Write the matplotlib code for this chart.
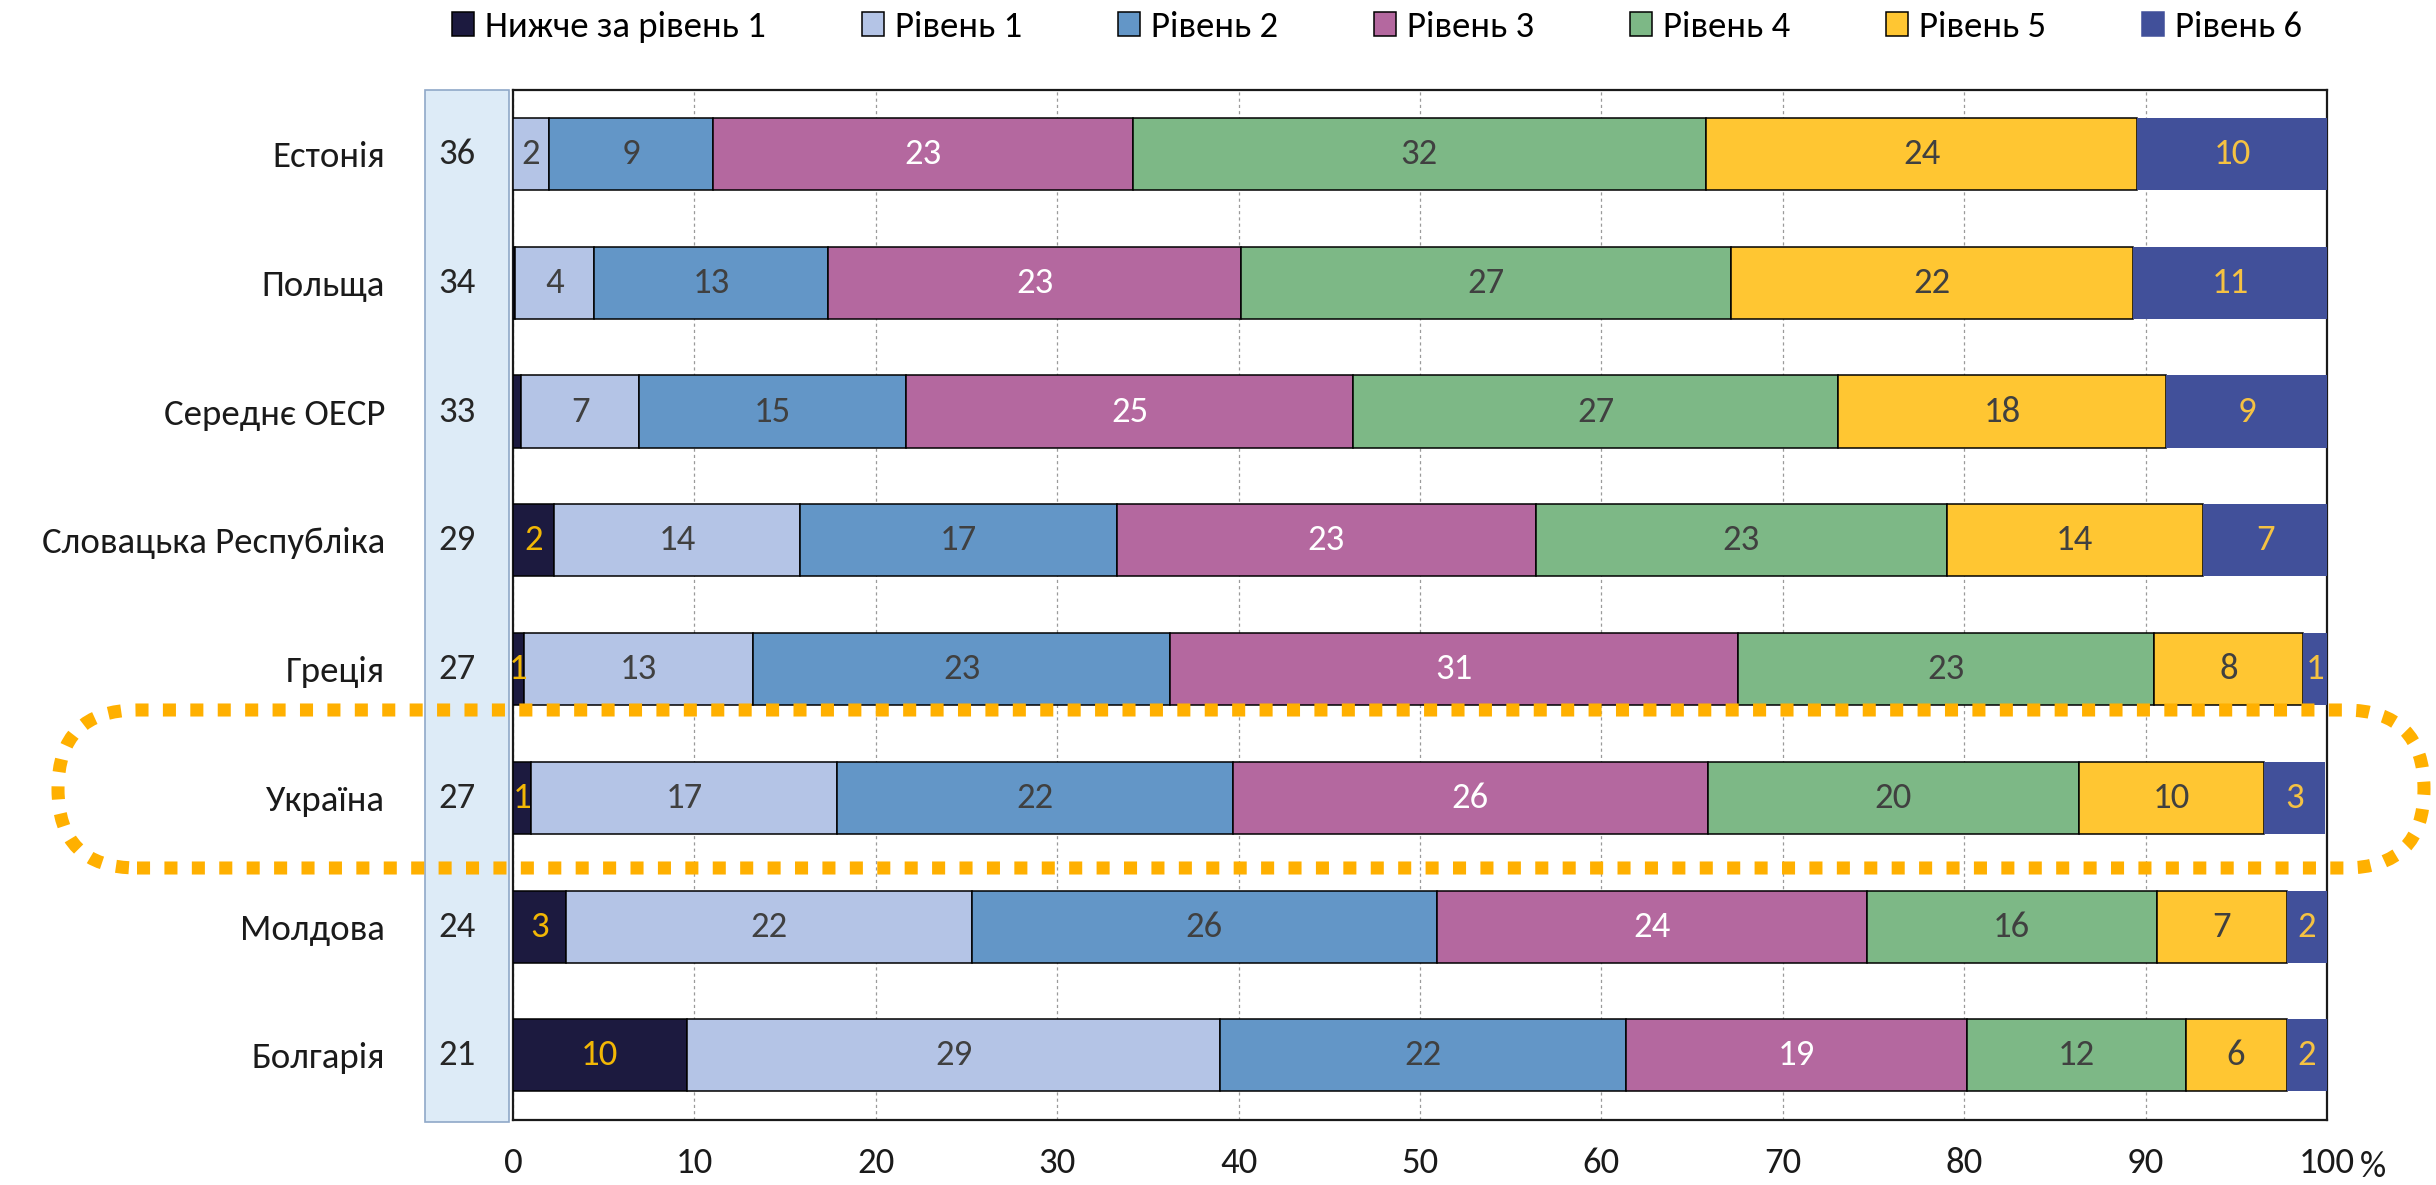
import matplotlib
matplotlib.use("Agg")
import matplotlib.pyplot as plt
import numpy as np
from matplotlib.patches import Patch, FancyBboxPatch, Rectangle
from matplotlib.transforms import IdentityTransform, blended_transform_factory

plt.rcParams['font.family'] = ['Carlito', 'Lato', 'DejaVu Sans']

categories = ['Естонія', 'Польща', 'Середнє ОЕСР', 'Словацька Республіка',
              'Греція', 'Україна', 'Молдова', 'Болгарія']
scores = [36, 34, 33, 29, 27, 27, 24, 21]
series_names = ['Нижче за рівень 1', 'Рівень 1', 'Рівень 2', 'Рівень 3',
                'Рівень 4', 'Рівень 5', 'Рівень 6']
below1 = [0.0, 0.1, 0.45, 2.27, 0.58, 1.0, 2.91, 9.58]
lvl1 = [1.97, 4.37, 6.51, 13.56, 12.66, 16.86, 22.37, 29.42]
lvl2 = [9.03, 12.91, 14.72, 17.44, 22.97, 21.82, 25.63, 22.36]
lvl3 = [23.17, 22.75, 24.63, 23.14, 31.33, 26.18, 23.72, 18.80]
lvl4 = [31.59, 26.99, 26.76, 22.62, 22.95, 20.48, 15.98, 12.04]
lvl5 = [23.79, 22.20, 18.06, 14.14, 8.18, 10.16, 7.16, 5.57]
lvl6 = [10.45, 10.68, 8.87, 6.83, 1.33, 3.40, 2.23, 2.23]
xticks = [0, 10, 20, 30, 40, 50, 60, 70, 80, 90, 100]

series = [below1, lvl1, lvl2, lvl3, lvl4, lvl5, lvl6]
colors = ['#1C1A3F', '#B4C4E6', '#6396C7', '#B4689F', '#7DB886', '#FFC632', '#41509A']
text_colors = ['#F2B705', '#404040', '#404040', '#FFFFFF', '#404040', '#404040', '#F5C242']
edges = ['black', 'black', 'black', 'black', 'black', 'black', 'none']

W, H = 2436, 1185
fig = plt.figure(figsize=(W / 100, H / 100), dpi=100)
ax = fig.add_axes([513 / W, 1 - 1119.7 / H, (2327 - 513) / W, (1119.7 - 89.6) / H])

FS = 26.5
y = np.arange(len(categories))
left = np.zeros(len(categories))
for vals, col, tcol, ec, name in zip(series, colors, text_colors, edges, series_names):
    vals = np.array(vals)
    ax.barh(y, vals, left=left, height=0.56, color=col, edgecolor=ec,
            linewidth=1.1, zorder=3, label=name)
    for yi, (l, v) in enumerate(zip(left, vals)):
        if round(v) >= 1:
            ax.text(l + v / 2, yi, f"{int(round(v))}", ha='center', va='center',
                    color=tcol, fontsize=FS, zorder=5)
    left = left + vals

ax.set_xlim(0, 100)
ax.set_ylim(len(categories) - 0.5, -0.5)
ax.set_xticks(xticks)
ax.set_xticklabels([str(t) for t in xticks], fontsize=FS, color='#1a1a1a')
ax.set_yticks(y)
ax.set_yticklabels(categories, fontsize=FS, color='#1a1a1a')
ax.tick_params(axis='both', length=0)
ax.tick_params(axis='x', pad=20)
ax.tick_params(axis='y', pad=92)
ax.xaxis.grid(True, linestyle=(0, (2.5, 2.5)), color='#9A9A9A', linewidth=0.9, zorder=0)
ax.set_axisbelow(True)
for s in ax.spines.values():
    s.set_linewidth(1.6)
    s.set_color('#1a1a1a')

# percent sign after 100
ax.text(1.018, -0.0459, '%', transform=ax.transAxes, fontsize=FS, color='#1a1a1a',
        ha='left', va='center')

# score column
trans = blended_transform_factory(ax.transAxes, ax.transData)
box = Rectangle((-0.0485, -0.002), 0.0463, 1.002, transform=ax.transAxes,
                facecolor='#DDEBF7', edgecolor='#8FA8C8', linewidth=1.2,
                clip_on=False, zorder=1)
ax.add_patch(box)
for yi, sc in enumerate(scores):
    ax.text(-0.031, yi, str(sc), transform=trans, ha='center', va='center',
            fontsize=FS, color='#262626', clip_on=False)

# highlight for Ukraine
hl = FancyBboxPatch((58, H - 868), 2424 - 58, 868 - 710,
                    boxstyle="round,pad=0,rounding_size=79",
                    transform=IdentityTransform(), fill=False,
                    edgecolor='#FFB000', linewidth=9.4,
                    linestyle=(0, (1, 1.1)), zorder=10)
fig.add_artist(hl)

handles = [Patch(facecolor=c, edgecolor=('black' if e != 'none' else c), linewidth=1.1)
           for c, e in zip(colors, edges)]
fig.legend(handles, series_names, loc='center', bbox_to_anchor=(1377 / W, 1 - 27 / H),
           ncol=7, frameon=False, fontsize=FS, handlelength=0.6, handleheight=0.62,
           handletextpad=0.3, columnspacing=2.6, borderaxespad=0)

fig.savefig('out.png', dpi=100)
